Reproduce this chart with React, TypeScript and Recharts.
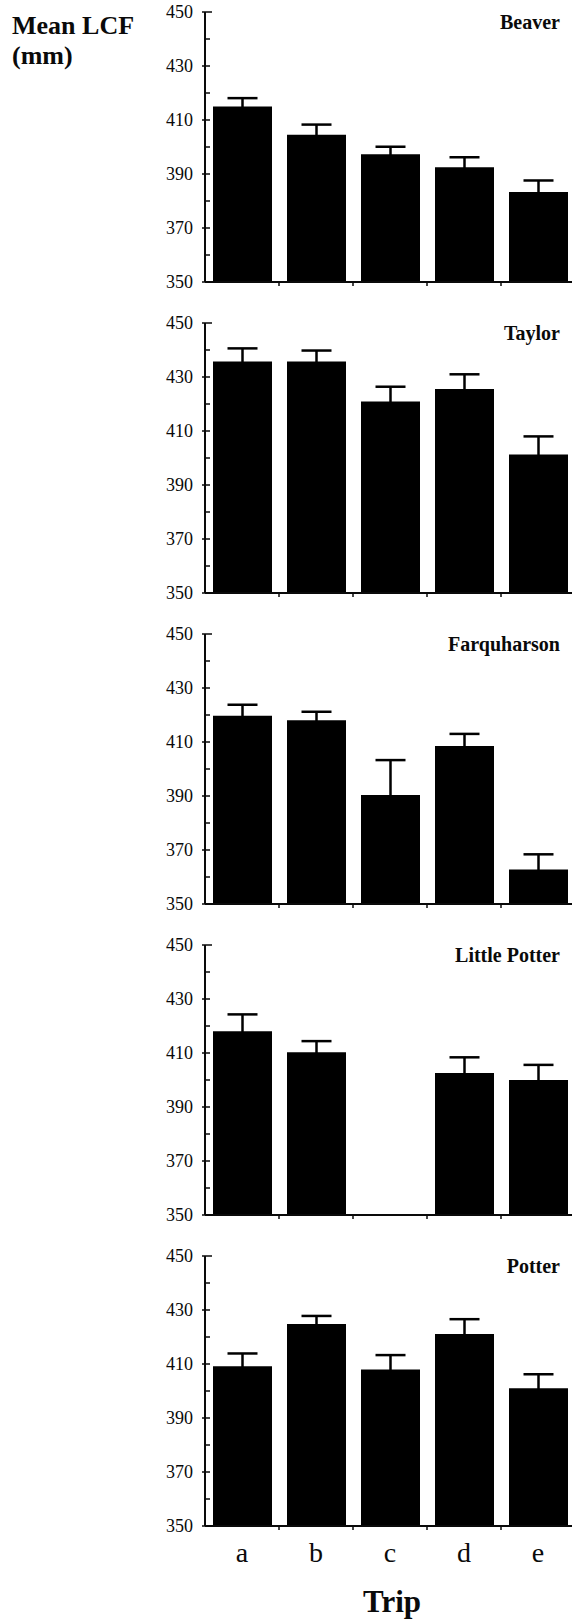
import React from 'react';
import { BarChart, Bar, XAxis, YAxis, ErrorBar } from 'recharts';

// Mean LCF per trip, with the standard error, for each site
const TRIPS = ['a', 'b', 'c', 'd', 'e'];

const BEAVER_MEAN = [415, 404.5, 397.3, 392.5, 383.3];
const BEAVER_ERR = [3.1, 3.8, 2.8, 3.7, 4.3];

const TAYLOR_MEAN = [435.7, 435.7, 420.9, 425.6, 401.3];
const TAYLOR_ERR = [4.9, 4.1, 5.5, 5.4, 6.7];

const FARQUHARSON_MEAN = [419.7, 418.1, 390.4, 408.5, 362.8];
const FARQUHARSON_ERR = [4.1, 3.1, 12.9, 4.5, 5.6];

// no sample on trip c
const LITTLE_POTTER_MEAN = [418.1, 410.3, null, 402.6, 400];
const LITTLE_POTTER_ERR = [6.2, 4.1, null, 5.8, 5.6];

const POTTER_MEAN = [409.2, 424.8, 408, 421.1, 401];
const POTTER_ERR = [4.7, 3.0, 5.3, 5.5, 5.2];

const Y_TICKS = [350, 360, 370, 380, 390, 400, 410, 420, 430, 440, 450];
const Y_LABELS = [350, 370, 390, 410, 430, 450];

interface Site {
  name: string;
  mean: (number | null)[];
  err: (number | null)[];
}

const SITES: Site[] = [
  { name: 'Beaver', mean: BEAVER_MEAN, err: BEAVER_ERR },
  { name: 'Taylor', mean: TAYLOR_MEAN, err: TAYLOR_ERR },
  { name: 'Farquharson', mean: FARQUHARSON_MEAN, err: FARQUHARSON_ERR },
  { name: 'Little Potter', mean: LITTLE_POTTER_MEAN, err: LITTLE_POTTER_ERR },
  { name: 'Potter', mean: POTTER_MEAN, err: POTTER_ERR },
];

const SERIF = '"Liberation Serif", "Times New Roman", serif';
const INK = '#0a0a0a';

// layout of the stacked panels
const PANEL_TOP = 12;
const PANEL_STEP = 311;
const PLOT_H = 270;
const MARGIN_TOP = 10;
const X_AXIS_H = 45;
const CHART_W = 600;
const CHART_H = MARGIN_TOP + PLOT_H + X_AXIS_H + 5;
const CATEGORY_W = 74;

const YTick = ({ x, y, payload }: any) => {
  const labelled = Y_LABELS.includes(payload.value);
  return (
    <g>
      <line
        x1={labelled ? x - 3 : x}
        x2={payload.value === 450 ? x + 7 : x + 5}
        y1={y}
        y2={y}
        stroke={INK}
        strokeWidth={1.5}
      />
      {labelled && (
        <text
          x={x - 12}
          y={y}
          dy="0.34em"
          textAnchor="end"
          fontFamily={SERIF}
          fontSize={18}
          fill={INK}
        >
          {payload.value}
        </text>
      )}
    </g>
  );
};

const makeXTick = (showLabels: boolean) => ({ x, y, payload, index }: any) => (
  <g>
    {index < TRIPS.length - 1 && (
      <line
        x1={x + CATEGORY_W / 2}
        x2={x + CATEGORY_W / 2}
        y1={y}
        y2={y + 4}
        stroke={INK}
        strokeWidth={1.5}
      />
    )}
    {showLabels && (
      <text x={x} y={y + 36} textAnchor="middle" fontFamily={SERIF} fontSize={28} fill={INK}>
        {payload.value}
      </text>
    )}
  </g>
);

const SitePanel: React.FC<{ site: Site; top: number; last: boolean }> = ({ site, top, last }) => {
  const data = TRIPS.map((trip, i) => ({
    trip,
    mean: site.mean[i],
    err: site.err[i],
  }));

  return (
    <div style={{ position: 'absolute', left: 0, top: top - MARGIN_TOP }}>
      <BarChart
        width={CHART_W}
        height={CHART_H}
        data={data}
        margin={{ top: MARGIN_TOP, right: 25, bottom: 5, left: 0 }}
      >
        <XAxis
          dataKey="trip"
          height={X_AXIS_H}
          axisLine={{ stroke: INK, strokeWidth: 2 }}
          tickLine={false}
          tickSize={0}
          tickMargin={0}
          interval={0}
          tick={makeXTick(last)}
        />
        <YAxis
          width={205}
          domain={[350, 450]}
          ticks={Y_TICKS}
          interval={0}
          allowDataOverflow
          axisLine={{ stroke: INK, strokeWidth: 2 }}
          tickLine={false}
          tickSize={0}
          tickMargin={0}
          tick={<YTick />}
        />
        {/* the lower half of each error bar sits inside the black bar */}
        <Bar dataKey="mean" fill="#000" barSize={59} isAnimationActive={false}>
          <ErrorBar dataKey="err" direction="y" width={15} stroke="#000" strokeWidth={2.5} />
        </Bar>
      </BarChart>
    </div>
  );
};

export default function App() {
  return (
    <div
      style={{
        position: 'fixed',
        left: 0,
        top: 0,
        width: 572,
        height: 1619,
        overflow: 'hidden',
        background: '#fff',
      }}
    >
      {SITES.map((site, i) => (
        <SitePanel
          key={site.name}
          site={site}
          top={PANEL_TOP + i * PANEL_STEP}
          last={i === SITES.length - 1}
        />
      ))}

      {/* axis titles and site names */}
      <svg
        width={572}
        height={1619}
        style={{ position: 'absolute', left: 0, top: 0, pointerEvents: 'none' }}
      >
        <g fontFamily={SERIF} fontWeight="bold" fill={INK}>
          <text x={12} y={34} fontSize={26}>Mean LCF</text>
          <text x={12} y={64} fontSize={26}>(mm)</text>
          {SITES.map((site, i) => (
            <text
              key={site.name}
              x={560}
              y={PANEL_TOP + i * PANEL_STEP + 17}
              fontSize={20}
              textAnchor="end"
            >
              {site.name}
            </text>
          ))}
          <text x={392} y={1612} fontSize={31} textAnchor="middle">Trip</text>
        </g>
      </svg>
    </div>
  );
}
